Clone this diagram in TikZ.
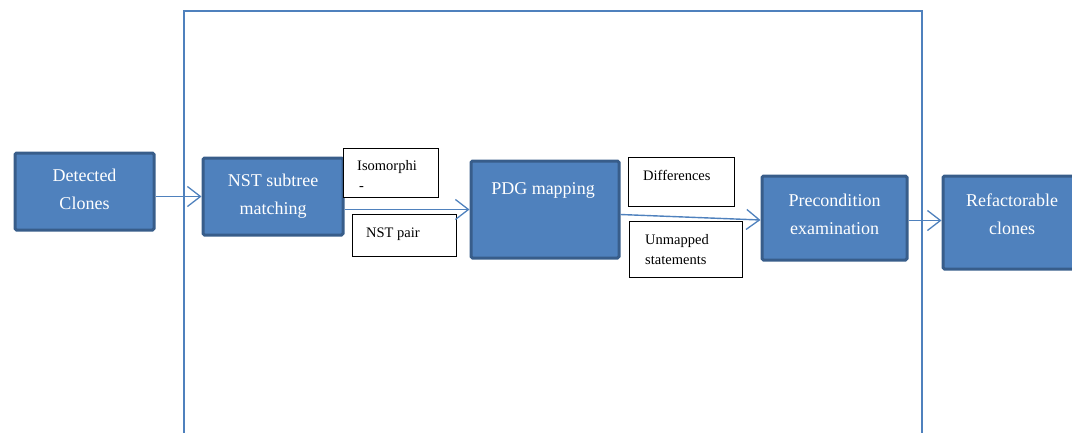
\documentclass[tikz,border=0pt]{standalone}
\usepackage{fontspec}
\setmainfont{Liberation Serif}
\usetikzlibrary{arrows.meta,calc}
\definecolor{boxfill}{RGB}{79,129,189}
\definecolor{boxedge}{RGB}{56,93,138}
\definecolor{linecol}{RGB}{79,129,189}
\tikzset{
  bluebox/.style={draw=boxedge, fill=boxfill, line width=3pt, rounded corners=1.5pt,
    anchor=north west, inner sep=0pt},
  boxtext/.style={text=white, align=center, inner sep=0pt,
    font=\fontsize{18}{28}\selectfont},
  notebox/.style={draw=black, fill=white, line width=0.9pt, anchor=north west, inner sep=0pt},
  notetext/.style={anchor=west, inner sep=0pt, align=left, font=\fontsize{14.5}{20}\selectfont},
  flow/.style={draw=linecol, line width=1.4pt, -{Straight Barb[length=13pt,width=20pt,line width=1.3pt]}},
  frame/.style={draw=linecol, line width=1.2pt}
}
\begin{document}
\begin{tikzpicture}[x=1pt,y=-1pt]
\useasboundingbox (0,0) rectangle (1072,432);
% outer frame (open at bottom)
\draw[frame] (184,440) -- (184,11) -- (922,11) -- (922,440);
% main boxes
\node[bluebox, minimum width=139pt, minimum height=77pt] (det) at (13.5,151.5) {};
\node[boxtext] (dett) at ([yshift=2pt]det.center) {Detected\\Clones};
\node[bluebox, minimum width=140pt, minimum height=77pt] (nst) at (201.5,156.5) {};
\node[boxtext] (nstt) at (nst.center) {NST subtree\\matching};
\node[bluebox, minimum width=148pt, minimum height=97pt] (pdg) at (469.5,159.5) {};
\node[boxtext] (pdgt) at (543,190) {PDG mapping};
\node[bluebox, minimum width=145pt, minimum height=84pt] (pre) at (760.5,174.5) {};
\node[boxtext] (pret) at ([yshift=4pt]pre.center) {Precondition\\examination};
\node[bluebox, minimum width=140pt, minimum height=93pt] (ref) at (941.5,174.5) {};
\node[boxtext] (reft) at ([xshift=-1pt,yshift=8pt]ref.center) {Refactorable\\clones};
% note boxes
\node[notebox, minimum width=95pt, minimum height=49pt] (iso) at (342.5,148) {};
\node[notetext] (isot) at (357,175) {Isomorphi\\\hspace*{2pt}-};
\node[notebox, minimum width=104pt, minimum height=42pt] (pair) at (351.5,214) {};
\node[notetext] (pairt) at (366,234) {NST pair};
\node[notebox, minimum width=106pt, minimum height=49pt] (diff) at (627.5,156.5) {};
\node[notetext] (difft) at (643,175) {Differences};
\node[notebox, minimum width=113pt, minimum height=56pt] (unm) at (628.5,221) {};
\node[notetext] (unmt) at (645,250) {Unmapped\\statements};
% connectors
\draw[flow] (det.east |- nst.west) -- (nst.west);
\draw[flow] (nst.east |- pdg.west) -- (pdg.west);
\draw[flow] ([yshift=-5pt]pdg.east) -- ([yshift=-2pt]pre.west);
\draw[flow] ([yshift=-2.5pt]pre.east) -- ([yshift=-2.5pt]pre.east -| ref.west);
\end{tikzpicture}
\end{document}
